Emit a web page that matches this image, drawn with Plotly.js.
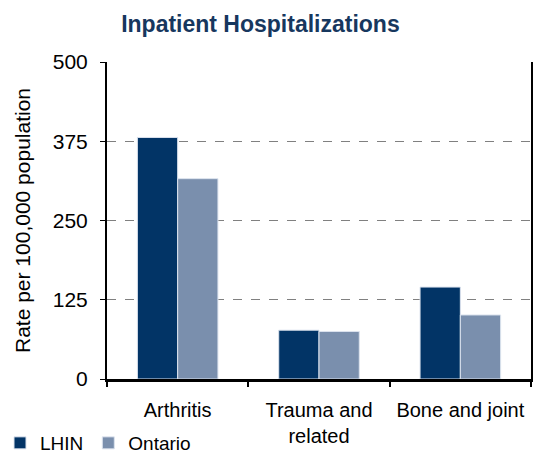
<!DOCTYPE html>
<html>
<head>
<meta charset="utf-8">
<script src="https://cdn.plot.ly/plotly-3.0.1.min.js"></script>
<style>
  body { margin: 0; }
  #chartDiv { width: 537px; height: 453px; }
</style>
</head>
<body>
<div id="chartDiv"></div>
<script>
const categories = ["Arthritis", "Trauma and<br>related", "Bone and joint"];
const lhinValues = [381, 77, 145];
const ontarioValues = [316, 75, 101];
const yTicks = [0, 125, 250, 375, 500];

const barLine = { color: "#DCE3EE", width: 1 };

const lhinTrace = {
  x: categories,
  y: lhinValues,
  name: "LHIN",
  type: "bar",
  marker: { color: "#023466", line: barLine },
  hoverinfo: "y",
};

const ontarioTrace = {
  x: categories,
  y: ontarioValues,
  name: "Ontario",
  type: "bar",
  marker: { color: "#7A8FAD", line: barLine },
  hoverinfo: "y",
};

const layout = {
  width: 537,
  height: 453,
  margin: { l: 107, r: 6, t: 62, b: 74 },
  paper_bgcolor: "white",
  plot_bgcolor: "white",
  font: { family: "Liberation Sans, Arial, sans-serif", size: 21, color: "#000" },
  title: {
    text: "<b>Inpatient Hospitalizations</b>",
    font: { size: 23, color: "#17375E" },
    x: 0.485,
    xanchor: "center",
    y: 0.948,
    yanchor: "middle",
  },
  barmode: "group",
  bargap: 0.43,
  bargroupgap: 0,
  xaxis: {
    showline: true,
    linecolor: "#000",
    linewidth: 3,
    mirror: false,
    ticks: "outside",
    tickson: "boundaries",
    ticklen: 5,
    tickcolor: "#000",
    tickwidth: 2,
    showgrid: false,
    tickfont: { size: 20 },
    ticklabelstandoff: 11,
  },
  yaxis: {
    range: [0, 500],
    tickvals: yTicks,
    ticktext: yTicks.map(String),
    showline: true,
    linecolor: "#000",
    linewidth: 2,
    mirror: true,
    ticks: "outside",
    ticklen: 5,
    tickcolor: "#000",
    tickwidth: 1,
    showgrid: true,
    gridcolor: "#808080",
    griddash: "dash",
    gridwidth: 1,
    zeroline: false,
    tickfont: { size: 21 },
    ticklabelstandoff: 8,
    title: { text: "Rate per 100,000 population", font: { size: 21 }, standoff: 16 },
  },
  showlegend: true,
  legend: {
    orientation: "h",
    xref: "container",
    yref: "container",
    x: 0,
    y: 0.064,
    xanchor: "left",
    yanchor: "top",
    bgcolor: "rgba(0,0,0,0)",
    font: { size: 19 },
    itemwidth: 30,
    tracegroupgap: 0,
  },
};

Plotly.newPlot("chartDiv", [lhinTrace, ontarioTrace], layout, { displayModeBar: false });
</script>
</body>
</html>
